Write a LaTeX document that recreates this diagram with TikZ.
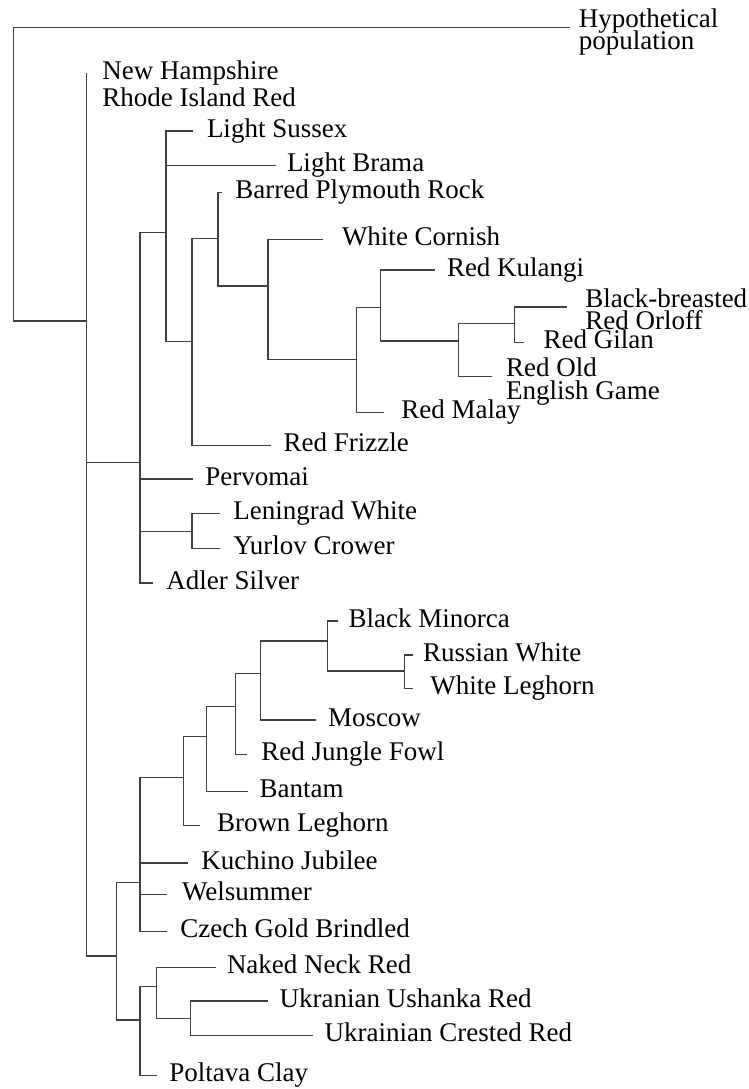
\documentclass[tikz,border=0pt]{standalone}
\usepackage{fontspec}
\setmainfont{Liberation Serif}
\usetikzlibrary{positioning}
% two stacked lines, baseline on the first one
\newcommand{\twolines}[2]{\vtop{\lineskiplimit=-\maxdimen\hbox{#1}\hbox{#2}}}

\begin{document}
\begin{tikzpicture}[x=0.5pt, y=-0.5pt, font=\fontsize{13.5}{11.3}\selectfont,
	leaf/.style={anchor=west, inner xsep=#1, inner ysep=0pt, text height=0.75em, text depth=0.15em},
	leaf/.default=6pt,
	twoline/.style={anchor=base west, inner xsep=#1, inner ysep=0pt},
	twoline/.default=6pt,
	branch/.style={draw=black!75, line width=0.65pt}]
	\useasboundingbox (0,0) rectangle (749,1089);

	% inner branch points
	\coordinate (r0) at (13.3,321);
	\coordinate (n1) at (86.7,321);
	\coordinate (n2) at (140,462.7);
	\coordinate (n4) at (166,232.7);
	\coordinate (n6) at (192,341.7);
	\coordinate (n7) at (218,238.3);
	\coordinate (n8) at (268,286);
	\coordinate (n9) at (356.7,359.3);
	\coordinate (n10) at (380.7,307.7);
	\coordinate (n11) at (458.3,341);
	\coordinate (n12) at (514.3,323.3);
	\coordinate (n5) at (192,531.7);
	\coordinate (n3) at (116.7,956);
	\coordinate (n13) at (140,882.7);
	\coordinate (n15) at (183.3,777.3);
	\coordinate (n16) at (206.7,736.7);
	\coordinate (n17) at (235.7,706.7);
	\coordinate (n18) at (260.3,673.3);
	\coordinate (n19) at (327.3,641);
	\coordinate (n20) at (404.3,671);
	\coordinate (n14) at (140,1020);
	\coordinate (n21) at (156.7,986.7);
	\coordinate (n22) at (190.7,1018.3);

	% breeds
	\node (hyp) at (570,27.3) [twoline=4.2pt] {\twolines{Hypothetical}{population}};
	\node (nh) at (86.7,73) [leaf=7.6pt] {New Hampshire};
	\node (rir) at (86.7,100.5) [leaf=7.6pt] {Rhode Island Red};
	\node (sussex) at (193,131) [leaf=6.8pt] {Light Sussex};
	\node (brama) at (276,165.7) [leaf=5.3pt] {Light Brama};
	\node (barred) at (221.7,192.7) [leaf=6.6pt] {Barred Plymouth Rock};
	\node (cornish) at (323,239.3) [leaf=9.3pt] {White Cornish};
	\node (kulangi) at (435,270) [leaf=5.8pt] {Red Kulangi};
	\node (orloff) at (567.3,307) [twoline=8.8pt] {\twolines{Black-breasted}{Red Orloff}};
	\node (gilan) at (524,342.7) [leaf=9.6pt] {Red Gilan};
	\node (oldgame) at (491.7,376.7) [twoline=7pt] {\twolines{Red Old}{English Game}};
	\node (malay) at (384.3,412.3) [leaf=8.3pt] {Red Malay};
	\node (frizzle) at (270.7,445.7) [leaf=6.3pt] {Red Frizzle};
	\node (pervomai) at (193.3,479) [leaf=5.8pt] {Pervomai};
	\node (leningrad) at (220,513.3) [leaf=6.5pt] {Leningrad White};
	\node (yurlov) at (220,548.3) [leaf=6.5pt] {Yurlov Crower};
	\node (adler) at (152.7,583) [leaf=6.6pt] {Adler Silver};
	\node (minorca) at (337.7,621) [leaf=5.3pt] {Black Minorca};
	\node (russian) at (412.7,655) [leaf=5pt] {Russian White};
	\node (leghorn) at (412.7,688.3) [leaf=8.6pt] {White Leghorn};
	\node (moscow) at (316,720) [leaf=5.8pt] {Moscow};
	\node (jungle) at (246.7,754.3) [leaf=7.1pt] {Red Jungle Fowl};
	\node (bantam) at (248.3,791.7) [leaf=5.5pt] {Bantam};
	\node (brown) at (200,825.7) [leaf=8.3pt] {Brown Leghorn};
	\node (kuchino) at (188.3,863) [leaf=6.3pt] {Kuchino Jubilee};
	\node (welsum) at (166.7,894.3) [leaf=7.5pt] {Welsummer};
	\node (czech) at (166.7,931.7) [leaf=6.6pt] {Czech Gold Brindled};
	\node (naked) at (216,967.7) [leaf=5.3pt] {Naked Neck Red};
	\node (ushanka) at (268.3,1001) [leaf=5.5pt] {Ukranian Ushanka Red};
	\node (crested) at (313.3,1035.7) [leaf=5.5pt] {Ukrainian Crested Red};
	\node (poltava) at (156.7,1075.7) [leaf=6.1pt] {Poltava Clay};

	% tree
	\draw [branch] (r0) |- (hyp.base west) (r0) -- (n1);
	\draw [branch] (n1) |- (nh.west) (n1) |- (n2) (n1) |- (n3);
	\draw [branch] (n2) |- (n4) (n2) |- (pervomai.west) (n2) |- (n5) (n2) |- (adler.west);
	\draw [branch] (n4) |- (sussex.west) (n4) |- (brama.west) (n4) |- (n6);
	\draw [branch] (n6) |- (n7) (n6) |- (frizzle.west);
	\draw [branch] (n7) |- (barred.west) (n7) |- (n8);
	\draw [branch] (n8) |- (cornish.west) (n8) |- (n9);
	\draw [branch] (n9) |- (n10) (n9) |- (malay.west);
	\draw [branch] (n10) |- (kulangi.west) (n10) |- (n11);
	\draw [branch] (n11) |- (n12) (n11) |- (oldgame.base west);
	\draw [branch] (n12) |- (orloff.base west) (n12) |- (gilan.west);
	\draw [branch] (n5) |- (leningrad.west) (n5) |- (yurlov.west);
	\draw [branch] (n3) |- (n13) (n3) |- (n14);
	\draw [branch] (n13) |- (n15) (n13) |- (kuchino.west) (n13) |- (welsum.west) (n13) |- (czech.west);
	\draw [branch] (n15) |- (n16) (n15) |- (brown.west);
	\draw [branch] (n16) |- (n17) (n16) |- (bantam.west);
	\draw [branch] (n17) |- (n18) (n17) |- (jungle.west);
	\draw [branch] (n18) |- (n19) (n18) |- (moscow.west);
	\draw [branch] (n19) |- (minorca.west) (n19) |- (n20);
	\draw [branch] (n20) |- (russian.west) (n20) |- (leghorn.west);
	\draw [branch] (n14) |- (n21) (n14) |- (poltava.west);
	\draw [branch] (n21) |- (naked.west) (n21) |- (n22);
	\draw [branch] (n22) |- (ushanka.west) (n22) |- (crested.west);
\end{tikzpicture}
\end{document}
